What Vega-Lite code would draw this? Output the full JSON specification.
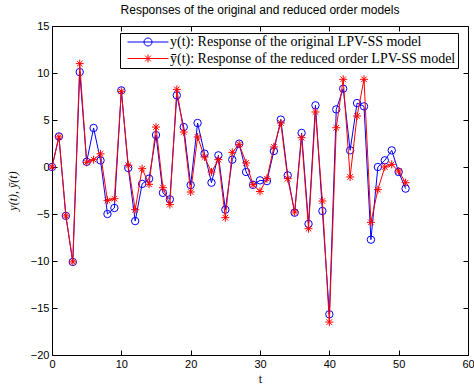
{
  "$schema": "https://vega.github.io/schema/vega-lite/v6.json",
  "width": 416,
  "height": 329,
  "autosize": "none",
  "padding": {"left": 52, "top": 26, "right": 6, "bottom": 30},
  "background": "white",
  "title": {"text": "Responses of the original and reduced order models", "font": "Liberation Sans", "fontSize": 12, "fontWeight": "normal", "color": "black", "offset": 3},
  "config": {
    "view": {"stroke": "black", "strokeWidth": 1},
    "axis": {"domain": false, "grid": false, "tickColor": "black", "tickSize": -5, "labelFont": "Liberation Sans", "labelFontSize": 11, "labelColor": "black", "titleFont": "Liberation Serif", "titleFontSize": 12, "titleFontWeight": "normal", "titleColor": "black"}
  },
  "data": {"values": [
    {"t":0,"s":"y","v":0},{"t":1,"s":"y","v":3.25},{"t":2,"s":"y","v":-5.2},{"t":3,"s":"y","v":-10.1},{"t":4,"s":"y","v":10.1},{"t":5,"s":"y","v":0.55},{"t":6,"s":"y","v":4.15},{"t":7,"s":"y","v":0.7},{"t":8,"s":"y","v":-5.0},{"t":9,"s":"y","v":-4.36},{"t":10,"s":"y","v":8.15},{"t":11,"s":"y","v":-0.1},{"t":12,"s":"y","v":-5.75},{"t":13,"s":"y","v":-1.8},{"t":14,"s":"y","v":-1.24},{"t":15,"s":"y","v":3.4},{"t":16,"s":"y","v":-2.75},{"t":17,"s":"y","v":-3.44},{"t":18,"s":"y","v":7.62},{"t":19,"s":"y","v":4.25},{"t":20,"s":"y","v":-1.92},{"t":21,"s":"y","v":4.68},{"t":22,"s":"y","v":1.42},{"t":23,"s":"y","v":-1.67},{"t":24,"s":"y","v":1.24},{"t":25,"s":"y","v":-4.54},{"t":26,"s":"y","v":0.78},{"t":27,"s":"y","v":2.48},{"t":28,"s":"y","v":-0.53},{"t":29,"s":"y","v":-1.9},{"t":30,"s":"y","v":-1.42},{"t":31,"s":"y","v":-1.5},{"t":32,"s":"y","v":1.7},{"t":33,"s":"y","v":5.04},{"t":34,"s":"y","v":-0.89},{"t":35,"s":"y","v":-4.86},{"t":36,"s":"y","v":3.62},{"t":37,"s":"y","v":-6.06},{"t":38,"s":"y","v":6.56},{"t":39,"s":"y","v":-4.68},{"t":40,"s":"y","v":-15.67},{"t":41,"s":"y","v":6.13},{"t":42,"s":"y","v":8.33},{"t":43,"s":"y","v":1.77},{"t":44,"s":"y","v":6.8},{"t":45,"s":"y","v":6.45},{"t":46,"s":"y","v":-7.73},{"t":47,"s":"y","v":0},{"t":48,"s":"y","v":0.71},{"t":49,"s":"y","v":1.77},{"t":50,"s":"y","v":-0.53},{"t":51,"s":"y","v":-2.3},
    {"t":0,"s":"ybar","v":0},{"t":1,"s":"ybar","v":3.2},{"t":2,"s":"ybar","v":-5.2},{"t":3,"s":"ybar","v":-10.1},{"t":4,"s":"ybar","v":11.0},{"t":5,"s":"ybar","v":0.5},{"t":6,"s":"ybar","v":0.78},{"t":7,"s":"ybar","v":1.4},{"t":8,"s":"ybar","v":-3.55},{"t":9,"s":"ybar","v":-3.37},{"t":10,"s":"ybar","v":8.05},{"t":11,"s":"ybar","v":0.18},{"t":12,"s":"ybar","v":-4.54},{"t":13,"s":"ybar","v":-0.18},{"t":14,"s":"ybar","v":-1.84},{"t":15,"s":"ybar","v":4.25},{"t":16,"s":"ybar","v":-2.2},{"t":17,"s":"ybar","v":-4.0},{"t":18,"s":"ybar","v":8.26},{"t":19,"s":"ybar","v":3.72},{"t":20,"s":"ybar","v":-2.66},{"t":21,"s":"ybar","v":3.19},{"t":22,"s":"ybar","v":1.06},{"t":23,"s":"ybar","v":-0.53},{"t":24,"s":"ybar","v":0.78},{"t":25,"s":"ybar","v":-5.39},{"t":26,"s":"ybar","v":1.56},{"t":27,"s":"ybar","v":2.41},{"t":28,"s":"ybar","v":0.43},{"t":29,"s":"ybar","v":-1.88},{"t":30,"s":"ybar","v":-2.6},{"t":31,"s":"ybar","v":-1.24},{"t":32,"s":"ybar","v":2.13},{"t":33,"s":"ybar","v":4.68},{"t":34,"s":"ybar","v":-1.24},{"t":35,"s":"ybar","v":-4.79},{"t":36,"s":"ybar","v":3.12},{"t":37,"s":"ybar","v":-6.56},{"t":38,"s":"ybar","v":5.85},{"t":39,"s":"ybar","v":-3.62},{"t":40,"s":"ybar","v":-16.5},{"t":41,"s":"ybar","v":4.18},{"t":42,"s":"ybar","v":9.33},{"t":43,"s":"ybar","v":-1.06},{"t":44,"s":"ybar","v":5.43},{"t":45,"s":"ybar","v":9.33},{"t":46,"s":"ybar","v":-5.89},{"t":47,"s":"ybar","v":-2.41},{"t":48,"s":"ybar","v":0},{"t":49,"s":"ybar","v":0.28},{"t":50,"s":"ybar","v":-0.43},{"t":51,"s":"ybar","v":-1.67}
  ]},
  "layer": [
    {
      "transform": [{"filter": "datum.s === 'y'"}],
      "mark": {"type": "line", "strokeWidth": 1},
      "encoding": {
        "x": {"field": "t", "type": "quantitative", "scale": {"domain": [0, 60], "nice": false}, "axis": {"values": [0,10,20,30,40,50,60], "title": "t", "labelPadding": 8, "titlePadding": 4, "labelFlush": false}},
        "y": {"field": "v", "type": "quantitative", "scale": {"domain": [-20, 15], "nice": false, "zero": false}, "axis": {"values": [-20,-15,-10,-5,0,5,10,15], "title": "y(t),  ȳ(t)", "titleFontStyle": "italic", "labelPadding": 8, "titlePadding": 11}},
        "color": {"field": "s", "type": "nominal", "scale": {"domain": ["y", "ybar"], "range": ["#0000ff", "#ff0000"]},
          "legend": {
            "orient": "none", "legendX": 68, "legendY": 7, "title": null,
            "strokeColor": "black", "fillColor": "white", "padding": 2,
            "labelFont": "Liberation Serif", "labelFontSize": 14, "labelColor": "black", "labelLimit": 0,
            "labelExpr": "datum.value === 'y' ? 'y(t): Response of the original LPV-SS model' : 'ȳ(t): Response of the reduced order LPV-SS model   '",
            "symbolSize": 100, "labelOffset": 15, "symbolOffset": 19, "rowPadding": 2.5,
            "encode": {"symbols": {"update": {
              "shape": {"signal": "datum.value === 'y' ? 'M-4.1,0L4.1,0M0.8,0A0.8,0.8 0 1,1 -0.8,0A0.8,0.8 0 1,1 0.8,0Z' : 'M-4.1,0L4.1,0M-0.8,0L0.8,0M0,-0.8L0,0.8M-0.57,-0.57L0.57,0.57M-0.57,0.57L0.57,-0.57'"},
              "size": {"value": 100},
              "fill": {"value": "transparent"},
              "stroke": {"signal": "datum.value === 'y' ? '#0000ff' : '#ff0000'"},
              "strokeWidth": {"value": 1},
              "opacity": {"value": 1}
            }}}
          }}
      }
    },
    {
      "transform": [{"filter": "datum.s === 'y'"}],
      "mark": {"type": "point", "shape": "circle", "filled": false, "strokeWidth": 1, "size": 55, "opacity": 1},
      "encoding": {
        "x": {"field": "t", "type": "quantitative", "axis": null},
        "y": {"field": "v", "type": "quantitative", "axis": null},
        "color": {"field": "s", "type": "nominal"}
      }
    },
    {
      "transform": [{"filter": "datum.s === 'ybar'"}],
      "mark": {"type": "line", "strokeWidth": 1},
      "encoding": {
        "x": {"field": "t", "type": "quantitative", "axis": null},
        "y": {"field": "v", "type": "quantitative", "axis": null},
        "color": {"field": "s", "type": "nominal"}
      }
    },
    {
      "transform": [{"filter": "datum.s === 'ybar'"}],
      "mark": {"type": "point", "shape": "M-1,0L1,0M0,-1L0,1M-0.7,-0.7L0.7,0.7M-0.7,0.7L0.7,-0.7", "filled": false, "strokeWidth": 1, "size": 64, "opacity": 1},
      "encoding": {
        "x": {"field": "t", "type": "quantitative", "axis": null},
        "y": {"field": "v", "type": "quantitative", "axis": null},
        "color": {"field": "s", "type": "nominal"}
      }
    },
    {
      "mark": {"type": "line", "opacity": 0},
      "encoding": {
        "x": {"field": "t", "type": "quantitative", "axis": {"orient": "top", "values": [0,10,20,30,40,50,60], "labels": false, "title": null}},
        "y": {"field": "v", "type": "quantitative", "axis": {"orient": "right", "values": [-20,-15,-10,-5,0,5,10,15], "labels": false, "title": null}}
      }
    }
  ],
  "resolve": {"axis": {"x": "independent", "y": "independent"}}
}
